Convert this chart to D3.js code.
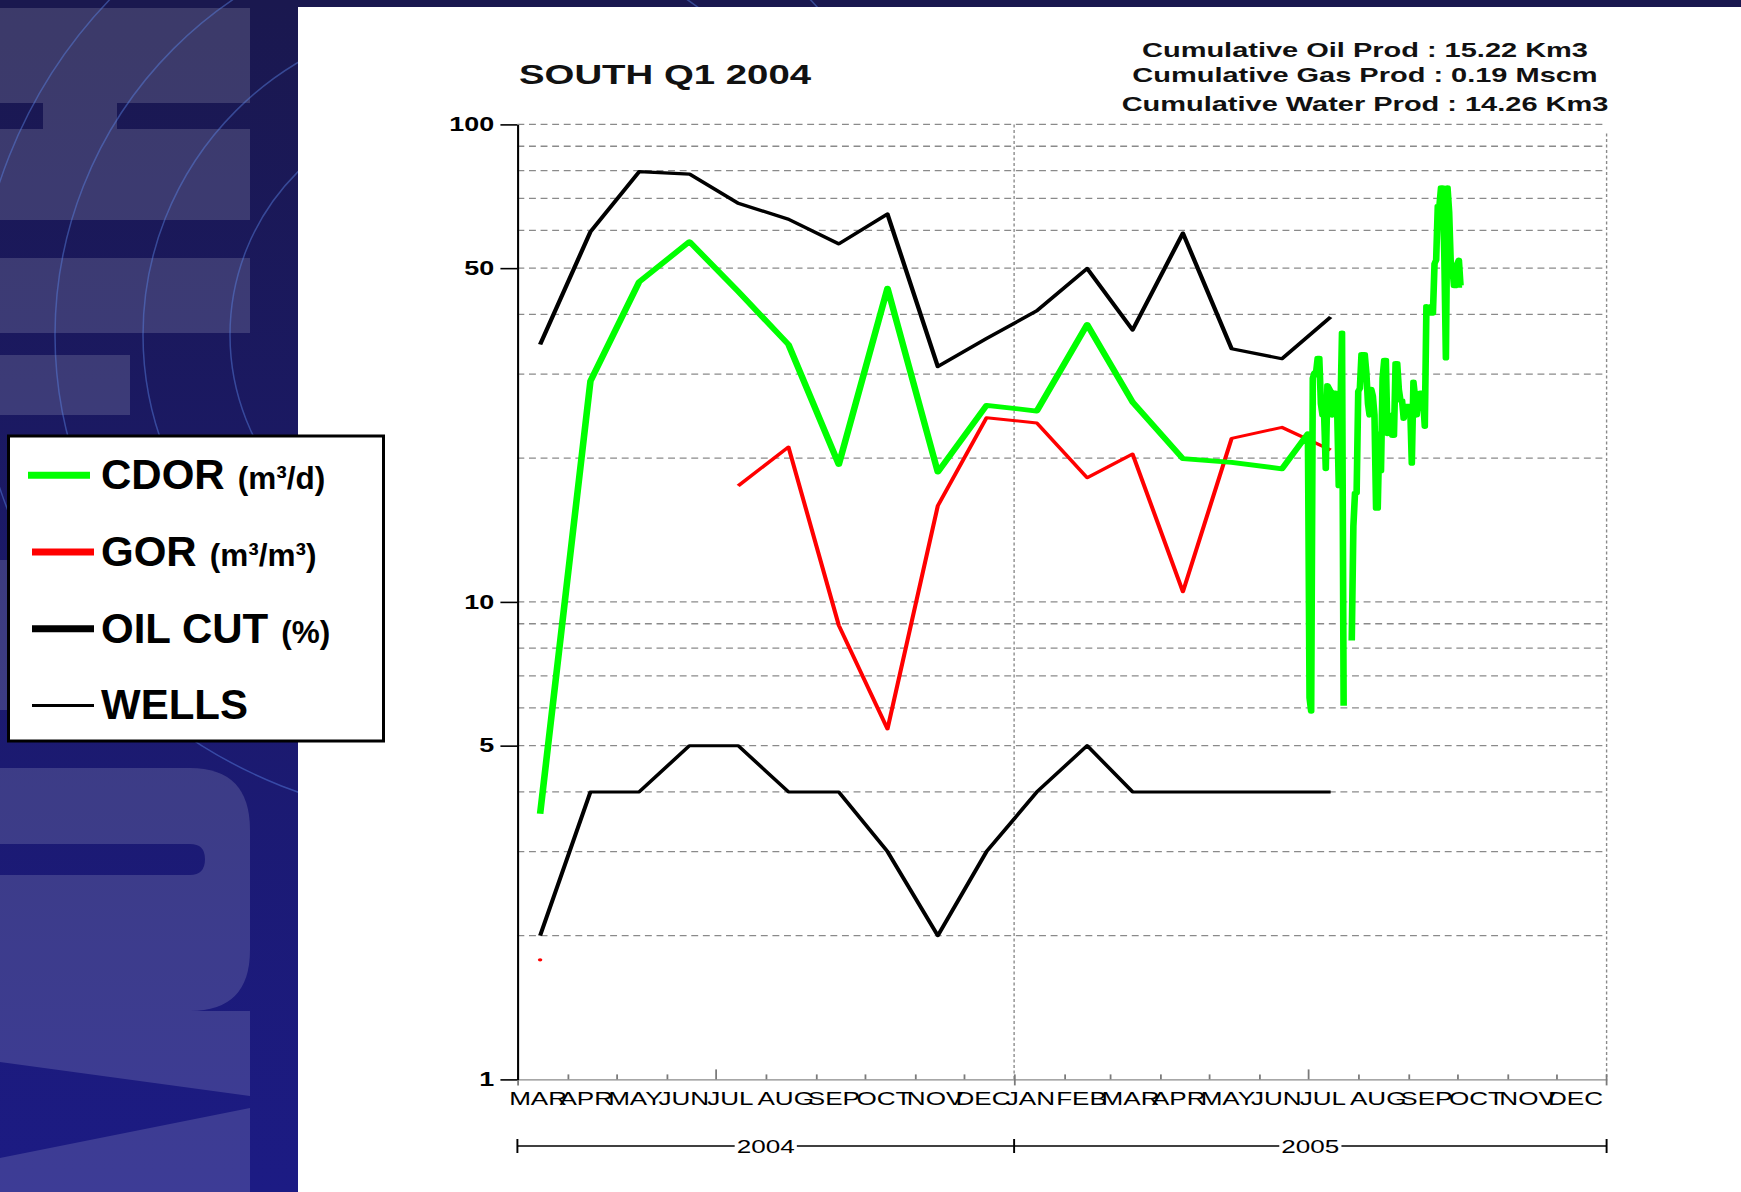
<!DOCTYPE html>
<html>
<head>
<meta charset="utf-8">
<script src="https://cdn.jsdelivr.net/npm/d3@7"></script>
<style>
body { margin: 0; background: #1a1960; }
svg { display: block; }
text { font-family: "Liberation Sans", Arial, sans-serif; }
</style>
</head>
<body>
<svg id="chart" width="1741" height="1192"></svg>
<script>
// monthly values, plotted at mid month
var months = ["2004-03","2004-04","2004-05","2004-06","2004-07","2004-08","2004-09","2004-10","2004-11","2004-12",
              "2005-01","2005-02","2005-03","2005-04","2005-05","2005-06","2005-07"];
var oilCut = [34.6, 59.6, 79.6, 78.7, 68.4, 63.3, 56.2, 64.9, 31.1, 35.6, 40.7, 49.9, 37.1, 59.2, 33.9, 32.3, 39.5];
var wells  = [2, 4, 4, 5, 5, 4, 4, 3, 2, 3, 4, 5, 4, 4, 4, 4, 4];
var gor    = [1.78, null, null, null, 17.5, 21.1, 8.93, 5.42, 15.9, 24.3, 23.7, 18.2, 20.4, 10.5, 22.0, 23.2, 20.8];
// CDOR monthly Mar 2004 - Jun 2005, then daily from 1 Jul 2005
var cdorMonthly = [3.6, 29.0, 46.8, 56.8, 44.7, 34.6, 19.4, 45.4, 18.7, 25.8, 25.1, 38.1, 26.2, 19.95, 19.6, 19.0];
var cdorDailyStart = "2005-07-01";
var cdorDaily = [22.5, 6.3, 5.9, 29.4, 30.2, 30.2, 32.4, 32.4, 26.0, 24.6,
                 24.6, 19.0, 28.4, 28.0, 27.6, 24.6, 27.4, 27.4, 25.5, 17.5,
                 25.0, 36.6, 6.06, null, null, null, null, 8.3, 14.4, 16.9,
                 16.9, 27.6, 28.0, 33.0, 33.0, 33.0, 30.2, 26.0, 24.6, 27.9,
                 27.0, 24.6, 15.7, 15.7, 22.5, 18.8, 29.4, 32.1, 32.1, 22.5,
                 24.6, 24.6, 22.3, 22.3, 31.6, 31.6, 27.9, 26.4, 26.4, 24.2,
                 25.7, 25.7, 25.7, 25.7, 19.5, 28.9, 26.9, 24.6, 26.9, 27.4,
                 27.4, 26.4, 23.3, 41.6, 40.2, 40.2, 41.6, 40.2, 51.1, 52.0,
                 67.4, 67.4, 73.7, 73.7, 53.9, 32.4, 73.7, 65.6, 51.1, 50.2,
                 45.9, 45.9, 51.1, 52.0, 46.0, 46.0];

var axisMonths = ["MAR","APR","MAY","JUN","JUL","AUG","SEP","OCT","NOV","DEC",
                  "JAN","FEB","MAR","APR","MAY","JUN","JUL","AUG","SEP","OCT","NOV","DEC"];
var years = ["2004", "2005"];
var yTicks = [1, 5, 10, 50, 100];
var yGrid = [2, 3, 4, 5, 6, 7, 8, 9, 10, 20, 30, 40, 50, 60, 70, 80, 90, 100];

var titleText = "SOUTH Q1 2004";
var cumulative = ["Cumulative Oil Prod : 15.22 Km3",
                  "Cumulative Gas Prod : 0.19 Mscm",
                  "Cumulative Water Prod : 14.26 Km3"];

var legendNames  = ["CDOR", "GOR", "OIL CUT", "WELLS"];
var legendUnits  = ["(m\u00b3/d)", "(m\u00b3/m\u00b3)", "(%)", ""];
var legendColors = ["#00ff00", "#ff0000", "#000000", "#000000"];
var legendWidths = [7, 7, 7, 3];

var svg = d3.select("#chart");
var W = 1741, H = 1192;

// ---- background of the slide ----
var defs = svg.append("defs");
var grad = defs.append("linearGradient").attr("id", "bg")
    .attr("gradientUnits", "userSpaceOnUse")
    .attr("x1", 0).attr("y1", 0).attr("x2", 0).attr("y2", H);
grad.append("stop").attr("offset", 0).attr("stop-color", "#1a184f");
grad.append("stop").attr("offset", 1).attr("stop-color", "#1c1b84");

svg.append("rect").attr("width", W).attr("height", H).attr("fill", "url(#bg)");

var deco = svg.append("g").attr("fill", "#ffffff").attr("fill-opacity", 0.15);
[[0, 8, 250, 95], [43, 103, 74, 26], [0, 129, 250, 91], [0, 258, 250, 75],
 [0, 355, 130, 60], [0, 560, 250, 150], [0, 1011, 250, 181]].forEach(function(r) {
    deco.append("rect").attr("x", r[0]).attr("y", r[1]).attr("width", r[2]).attr("height", r[3]);
});
deco.append("path").attr("d", "M0,768 H190 Q250,768 250,830 V950 Q250,1011 190,1011 H0 Z");
svg.append("path").attr("fill", "url(#bg)")
    .attr("d", "M0,844 H190 Q205,844 205,859 Q205,875 190,875 H0 Z");
svg.append("path").attr("fill", "url(#bg)")
    .attr("d", "M0,1062 L250,1096 L250,1108 L0,1158 Z");

var arcs = svg.append("g").attr("fill", "none").attr("stroke", "#5a86e6").attr("stroke-opacity", 0.45).attr("stroke-width", 1.5);
[230, 317, 405, 485].forEach(function(r) {
    arcs.append("circle").attr("cx", 460).attr("cy", 335).attr("r", r);
});

svg.append("rect").attr("x", 298).attr("y", 7).attr("width", W - 298).attr("height", H - 7).attr("fill", "#fff");

// ---- chart (the original picture is stretched sideways) ----
var SX = 1.38;
var plotLeft = 517.4 / SX, plotRight = 1606.6 / SX, plotTop = 124.4, plotBottom = 1079.4;
var g = svg.append("g").attr("transform", "scale(" + SX + ",1)");

var parseMonth = d3.timeParse("%Y-%m");
var parseDay = d3.timeParse("%Y-%m-%d");
var x = d3.scaleTime().domain([new Date(2004, 2, 1), new Date(2006, 0, 1)]).range([plotLeft, plotRight]);
var y = d3.scaleLog().domain([1, 100]).range([plotBottom, plotTop]);

var midMonth = months.map(function(m) {
    var d = parseMonth(m);
    return new Date(d.getFullYear(), d.getMonth(), 15);
});
function series(vals) {
    return vals.map(function(v, i) { return {date: midMonth[i], v: v}; });
}
var dayStart = parseDay(cdorDailyStart);
var cdor = series(cdorMonthly).concat(cdorDaily.map(function(v, i) {
    return {date: d3.timeDay.offset(dayStart, i), v: v};
}));

// grid
g.append("g").selectAll("line").data(yGrid).join("line")
    .attr("x1", plotLeft).attr("x2", plotRight)
    .attr("y1", function(d) { return y(d); }).attr("y2", function(d) { return y(d); })
    .attr("stroke", "#8a8a8a").attr("stroke-width", 1.3).attr("stroke-dasharray", "5,3.4");

var vlines = [new Date(2005, 0, 1), x.domain()[1]];
g.append("g").selectAll("line").data(vlines).join("line")
    .attr("x1", function(d) { return x(d); }).attr("x2", function(d) { return x(d); })
    .attr("y1", function(d, i) { return i ? plotTop + 9 : plotTop; }).attr("y2", plotBottom)
    .attr("stroke", "#8a8a8a").attr("stroke-width", 1).attr("stroke-dasharray", "3,2.5");

// x axis
var monthStarts = d3.timeMonth.range(x.domain()[0], x.domain()[1]);
var xAxis = g.append("g").attr("transform", "translate(0," + plotBottom + ")")
    .call(d3.axisBottom(x).tickValues(monthStarts).tickSize(-5).tickSizeOuter(0)
        .tickFormat(function(d, i) { return axisMonths[i]; }));
xAxis.attr("font-family", null).attr("font-size", null);
xAxis.select(".domain").attr("stroke", "#8a8a8a").attr("stroke-width", 1.3);
xAxis.selectAll(".tick line").attr("stroke", "#7a7a7a").attr("stroke-width", 1.3)
    .attr("y1", function(d) { return d.getMonth() === 0 || +d === +x.domain()[0] ? 6 : 0; })
    .attr("y2", function(d) { return d.getMonth() === 6 ? -10 : -5; });
xAxis.selectAll(".tick text").attr("text-anchor", "start").attr("x", -6.5).attr("y", 12)
    .attr("fill", "#000").style("font-size", "18.9px");
xAxis.append("line").attr("x1", plotRight).attr("x2", plotRight).attr("y1", 6).attr("y2", -5)
    .attr("stroke", "#7a7a7a").attr("stroke-width", 1.3);

// year bar
var yearY = 1146;
var yearEdges = [x.domain()[0], new Date(2005, 0, 1), x.domain()[1]];
var yb = g.append("g");
yb.append("line").attr("x1", plotLeft).attr("x2", plotRight).attr("y1", yearY).attr("y2", yearY)
    .attr("stroke", "#000").attr("stroke-width", 1.4);
yb.selectAll("line.edge").data(yearEdges).join("line").attr("class", "edge")
    .attr("x1", function(d) { return x(d); }).attr("x2", function(d) { return x(d); })
    .attr("y1", yearY - 7).attr("y2", yearY + 7).attr("stroke", "#000").attr("stroke-width", 1.4);
years.forEach(function(yr, i) {
    var cx = (x(yearEdges[i]) + x(yearEdges[i + 1])) / 2;
    var t = yb.append("text").attr("x", cx).attr("y", yearY).attr("dy", "0.35em")
        .attr("text-anchor", "middle").style("font-size", "18.9px").text(yr);
    var bb = t.node().getBBox();
    yb.insert("rect", "text").attr("x", bb.x - 1.5).attr("y", bb.y).attr("width", bb.width + 3)
        .attr("height", bb.height).attr("fill", "#fff");
});

// y axis
var yAxis = g.append("g").attr("transform", "translate(" + plotLeft + ",0)")
    .call(d3.axisLeft(y).tickValues(yTicks).tickFormat(d3.format("d")).tickSize(12.3).tickSizeOuter(0).tickPadding(4.5));
yAxis.attr("font-family", null).attr("font-size", null);
yAxis.select(".domain").attr("stroke", "#000").attr("stroke-width", 1.5);
yAxis.selectAll(".tick line").attr("stroke", "#000").attr("stroke-width", 1.6);
yAxis.selectAll(".tick text").attr("fill", "#000").style("font-size", "19.5px").style("font-weight", "bold");

// series
var line = d3.line().defined(function(d) { return d.v != null; })
    .x(function(d) { return x(d.date); }).y(function(d) { return y(d.v); });

function drawSeries(data, color, width) {
    g.append("path").datum(data).attr("d", line).attr("fill", "none")
        .attr("stroke", color).attr("stroke-width", width).attr("stroke-linejoin", "round");
    var lone = data.filter(function(d, i) {
        return d.v != null && (i === 0 || data[i - 1].v == null) && (i === data.length - 1 || data[i + 1].v == null);
    });
    g.append("g").selectAll("circle").data(lone).join("circle")
        .attr("cx", function(d) { return x(d.date); }).attr("cy", function(d) { return y(d.v); })
        .attr("r", 1.6).attr("fill", color);
}
drawSeries(series(wells), "#000", 3.0);
drawSeries(series(oilCut), "#000", 3.2);
drawSeries(series(gor), "#ff0000", 3.0);
drawSeries(cdor, "#00ff00", 4.8);

// title and totals
g.append("text").attr("x", 519 / SX).attr("y", 84.3)
    .style("font-size", "27.8px").style("font-weight", "bold").attr("fill", "#111").text(titleText);
g.append("g").selectAll("text").data(cumulative).join("text")
    .attr("x", 1365 / SX).attr("y", function(d, i) { return [57.3, 82.3, 110.7][i]; })
    .attr("text-anchor", "middle").style("font-size", "21px").style("font-weight", "bold")
    .attr("fill", "#111").text(function(d) { return d; });

// ---- legend box ----
var lg = svg.append("g");
lg.append("rect").attr("x", 8.5).attr("y", 436).attr("width", 375).attr("height", 305)
    .attr("fill", "#fff").attr("stroke", "#000").attr("stroke-width", 3);
legendNames.forEach(function(nm, i) {
    var base = 489.3 + i * 76.7;
    lg.append("line").attr("x1", i ? 32 : 28).attr("x2", i ? 94 : 90)
        .attr("y1", base - 14).attr("y2", base - 14)
        .attr("stroke", legendColors[i]).attr("stroke-width", legendWidths[i]);
    var t = lg.append("text").attr("x", 101).attr("y", base).style("font-weight", "bold").attr("fill", "#000");
    t.append("tspan").style("font-size", "42px").text(nm);
    if (legendUnits[i]) t.append("tspan").attr("dx", 13).style("font-size", "31.5px").text(legendUnits[i]);
});
</script>
</body>
</html>
